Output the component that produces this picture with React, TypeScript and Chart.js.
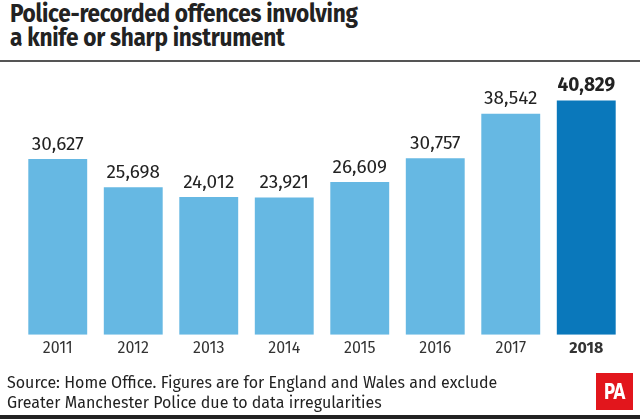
import React, { useEffect, useRef } from "react";
import { Chart, registerables } from "chart.js";

Chart.register(...registerables);

const years = ["2011", "2012", "2013", "2014", "2015", "2016", "2017", "2018"];
const offences = [30627, 25698, 24012, 23921, 26609, 30757, 38542, 40829];
const valueLabels = ["30,627", "25,698", "24,012", "23,921", "26,609", "30,757", "38,542", "40,829"];
const highlightIndex = 7;

const LIGHT = "#66b8e3";
const DARK = "#0a78bb";
const FONT = "'Fira Sans', 'Noto Sans', 'Open Sans', sans-serif";

const valueLabelPlugin = {
  id: "valueLabels",
  afterDatasetsDraw(chart: any) {
    const ctx = chart.ctx;
    const meta = chart.getDatasetMeta(0);
    ctx.save();
    ctx.textAlign = "center";
    ctx.textBaseline = "bottom";
    ctx.fillStyle = "#222";
    meta.data.forEach((bar: any, i: number) => {
      ctx.font = `${i === highlightIndex ? "bold " : ""}19px ${FONT}`;
      ctx.fillText(valueLabels[i], bar.x, bar.y - 5);
    });
    ctx.restore();
  },
};

export default function App() {
  const ref = useRef<HTMLCanvasElement>(null);
  useEffect(() => {
    document.body.style.margin = "0";
    const chart = new Chart(ref.current!, {
      type: "bar",
      data: {
        labels: years,
        datasets: [
          {
            data: offences,
            backgroundColor: offences.map((_, i) => (i === highlightIndex ? DARK : LIGHT)),
            categoryPercentage: 0.78,
            barPercentage: 1,
          },
        ],
      },
      options: {
        animation: false,
        responsive: false,
        maintainAspectRatio: false,
        layout: { padding: { left: 20, right: 16, top: 70, bottom: 57 } },
        plugins: { legend: { display: false }, tooltip: { enabled: false } },
        scales: {
          x: {
            grid: { display: false, drawTicks: false },
            border: { display: false },
            ticks: {
              color: "#333",
              padding: 4,
              font: (c: any) => ({
                family: FONT,
                size: 16,
                weight: c.index === highlightIndex ? "bold" : "normal",
              }),
            },
          },
          y: { display: false, min: 0, max: 46150 },
        },
      },
      plugins: [valueLabelPlugin],
    });
    return () => chart.destroy();
  }, []);

  return (
    <div style={{ position: "relative", width: 640, height: 419, background: "#fff", overflow: "hidden", fontFamily: FONT }}>
      <div style={{ position: "absolute", left: 10, top: 2, fontSize: 25, fontWeight: "bold", color: "#222", lineHeight: "24px", letterSpacing: "-0.3px", whiteSpace: "nowrap", transform: "scaleX(0.905)", transformOrigin: "left top" }}>
        Police-recorded offences involving
        <br />
        a knife or sharp instrument
      </div>
      <div style={{ position: "absolute", left: 0, top: 60, width: 640, height: 2, background: "#555" }} />
      <canvas ref={ref} width={640} height={419} style={{ position: "absolute", left: 0, top: 0, width: 640, height: 419 }} />
      <div style={{ position: "absolute", left: 7, top: 373, fontSize: 16, color: "#222", lineHeight: "20px", whiteSpace: "nowrap" }}>
        Source: Home Office. Figures are for England and Wales and exclude
        <br />
        Greater Manchester Police due to data irregularities
      </div>
      <div style={{ position: "absolute", left: 596, top: 373, width: 37, height: 37, background: "#e2161c", color: "#fff", fontWeight: "bold", fontSize: 22, display: "flex", alignItems: "center", justifyContent: "center", fontFamily: "'Liberation Sans Narrow', 'DejaVu Sans Condensed', 'Roboto', sans-serif" }}>
        <span style={{ display: "inline-block", transform: "scaleX(0.8)", letterSpacing: "-0.5px" }}>PA</span>
      </div>
      <div style={{ position: "absolute", left: 0, top: 415, width: 640, height: 4, background: "#222" }} />
    </div>
  );
}
